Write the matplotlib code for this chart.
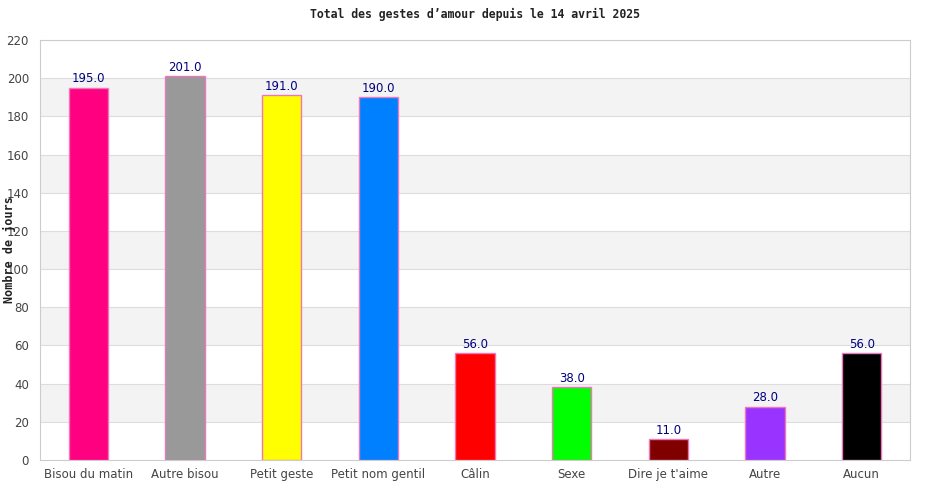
import numpy as np
import matplotlib.pyplot as plt

categories = ["Bisou du matin", "Autre bisou", "Petit geste", "Petit nom gentil",
              "Câlin", "Sexe", "Dire je t'aime", "Autre", "Aucun"]
values = [195, 201, 191, 190, 56, 38, 11, 28, 56]
colors = ["#ff0080", "#999999", "#ffff00", "#0080ff", "#ff0000",
          "#00ff00", "#800000", "#9933ff", "#000000"]
yticks = list(range(0, 221, 20))

fig = plt.figure(figsize=(9.5, 5), dpi=100)
ax = fig.add_axes([40/950, 40/500, 870/950, 420/500])

x = np.arange(len(categories))
ax.set_xlim(-0.5, len(categories) - 0.5)
ax.set_ylim(0, 220)

# alternating bands
for i, lo in enumerate(yticks[:-1]):
    if i % 2 == 1:
        ax.axhspan(lo, lo + 20, color="#f3f3f3", zorder=0, lw=0)
for t in yticks[1:]:
    ax.axhline(t, color="#dddddd", lw=0.8, zorder=1)

bars = ax.bar(x, values, width=0.41, color=colors, edgecolor="#ee77bb",
              linewidth=1, zorder=3)
for xi, v in zip(x, values):
    ax.text(xi, v + 1.2, f"{v:.1f}", ha="center", va="bottom",
            color="#000080", fontsize=8.5, zorder=4)

ax.set_xticks(x)
ax.set_xticklabels(categories)
ax.set_yticks(yticks)
ax.tick_params(length=0, labelsize=8.5, colors="#444444")
ax.tick_params(axis="x", pad=6)
ax.tick_params(axis="y", pad=8)
for s in ax.spines.values():
    s.set_color("#cccccc")

fig.text(0.5, 1 - 14/500, "Total des gestes d\u2019amour depuis le 14 avril 2025",
         ha="center", va="center", family="DejaVu Sans Mono",
         fontweight="bold", fontsize=8.3, color="#222222")
fig.text(10/950, 0.5, "Nombre de jours", rotation=90, ha="center",
         va="center", family="DejaVu Sans Mono", fontweight="bold",
         fontsize=8.5, color="#222222")

fig.savefig("out.png", dpi=100)
